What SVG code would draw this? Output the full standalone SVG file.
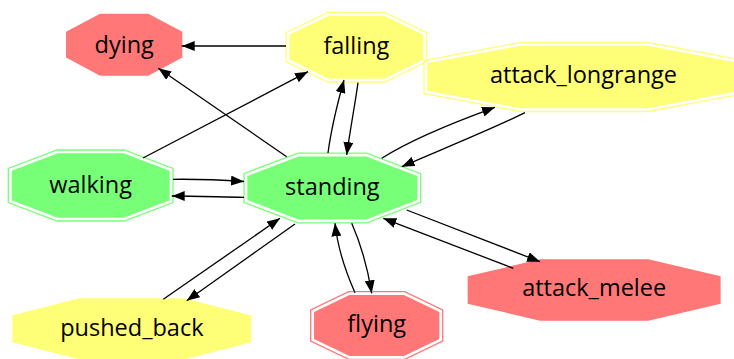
<svg xmlns="http://www.w3.org/2000/svg" width="734" height="359" viewBox="0 0 734 359">
<style>
text{font-family:"Open Sans","DejaVu Sans",sans-serif;font-size:23.5px;fill:#000;text-anchor:middle}
.r{fill:#ff7777;stroke:#ff7777;stroke-width:1.3}
.y{fill:#ffff77;stroke:#ffff77;stroke-width:1.3}
.g{fill:#77ff77;stroke:#77ff77;stroke-width:1.3}
.ro{fill:none;stroke:#ff7777;stroke-width:1.3}
.yo{fill:none;stroke:#ffff77;stroke-width:1.3}
.go{fill:none;stroke:#77ff77;stroke-width:1.3}
.e{fill:none;stroke:#000;stroke-width:1.3;marker-end:url(#ah)}
</style>
<defs>
<marker id="ah" markerUnits="userSpaceOnUse" markerWidth="13" markerHeight="10" refX="13" refY="5" orient="auto">
<path d="M0,0 L13,5 L0,10 z" fill="#000"/>
</marker>
</defs>
<rect width="734" height="359" fill="#fff"/>
<g id="nodes">
<g id="dying" transform="translate(124.2,44.65)">
<polygon class="r" points="-24,-30.35 24,-30.35 57.5,-12.5 57.5,12.5 24,30.35 -24,30.35 -57.5,12.5 -57.5,-12.5"/>
<text x="0" y="8.65">dying</text>
</g>
<g id="falling" transform="translate(356.35,47.15)">
<polygon class="yo" points="-28.5,-34.85 28.5,-34.85 70.35,-14.5 70.35,14.5 28.5,34.85 -28.5,34.85 -70.35,14.5 -70.35,-14.5"/>
<polygon class="y" points="-27.6,-30.85 27.6,-30.85 66.35,-12 66.35,12 27.6,30.85 -27.6,30.85 -66.35,12 -66.35,-12"/>
<text x="0" y="7.15">falling</text>
</g>
<g id="attack_longrange" transform="translate(584,77)">
<polygon class="yo" points="-64,-34.5 64,-34.5 160,-16.5 160,16.5 64,34.5 -64,34.5 -160,16.5 -160,-16.5"/>
<polygon class="y" points="-63.6,-30.5 63.6,-30.5 156,-13.2 156,13.2 63.6,30.5 -63.6,30.5 -156,13.2 -156,-13.2"/>
<text x="-0.5" y="6.3">attack_longrange</text>
</g>
<g id="walking" transform="translate(90.65,185.5)">
<polygon class="go" points="-33.5,-35.5 33.5,-35.5 82.35,-17 82.35,17 33.5,35.5 -33.5,35.5 -82.35,17 -82.35,-17"/>
<polygon class="g" points="-32.8,-31.5 32.8,-31.5 78.35,-14.2 78.35,14.2 32.8,31.5 -32.8,31.5 -78.35,14.2 -78.35,-14.2"/>
<text x="0" y="7.8">walking</text>
</g>
<g id="standing" transform="translate(332.35,188)">
<polygon class="go" points="-34.35,-34.9 34.35,-34.9 88.35,-14.4 88.35,14.4 34.35,34.9 -34.35,34.9 -88.35,14.4 -88.35,-14.4"/>
<polygon class="g" points="-33.6,-30.9 33.6,-30.9 84.35,-11.6 84.35,11.6 33.6,30.9 -33.6,30.9 -84.35,11.6 -84.35,-11.6"/>
<text x="0" y="7">standing</text>
</g>
<g id="pushed_back" transform="translate(131.85,328.85)">
<polygon class="y" points="-52.35,-29.85 52.35,-29.85 118.85,-12.85 118.85,12.85 52.35,29.85 -52.35,29.85 -118.85,12.85 -118.85,-12.85"/>
<text x="0" y="7.15">pushed_back</text>
</g>
<g id="flying" transform="translate(376.7,325.5)">
<polygon class="ro" points="-28,-33.8 28,-33.8 66,-15.5 66,15.5 28,33.8 -28,33.8 -66,15.5 -66,-15.5"/>
<polygon class="r" points="-27.1,-29.8 27.1,-29.8 62,-13 62,13 27.1,29.8 -27.1,29.8 -62,13 -62,-13"/>
<text x="0" y="6.2">flying</text>
</g>
<g id="attack_melee" transform="translate(594.15,290)">
<polygon class="r" points="-54,-30 54,-30 125.85,-13.15 125.85,13.15 54,30 -54,30 -125.85,13.15 -125.85,-13.15"/>
<text x="0" y="6">attack_melee</text>
</g>
</g>
<g id="edges">
<path class="e" d="M286,46 L181.7,46"/>
<path class="e" d="M286.7,156.7 L158.3,68.3"/>
<path class="e" d="M143,158 L308,71.7"/>
<path class="e" d="M328,153 C331,130 337,105 344,80"/>
<path class="e" d="M358,82.7 C355,105 350,130 346.7,155"/>
<path class="e" d="M381.7,158.3 C410,140 460,120 495,107.3"/>
<path class="e" d="M525,112.7 C490,130 440,150 401.7,166.7"/>
<path class="e" d="M173,179.3 C195,179 222,180 244,181.5"/>
<path class="e" d="M244,197.3 C222,197 195,196 171.7,196"/>
<path class="e" d="M163.3,299.3 L280,218.3"/>
<path class="e" d="M295,224 L186.7,300.7"/>
<path class="e" d="M355,292.7 Q338.4,255.4 335,223.3"/>
<path class="e" d="M351.7,223.3 Q365.7,255.1 371.7,293.3"/>
<path class="e" d="M406.7,210 L540,261.7"/>
<path class="e" d="M513.3,268.3 L383.3,218.3"/>
</g>
</svg>
